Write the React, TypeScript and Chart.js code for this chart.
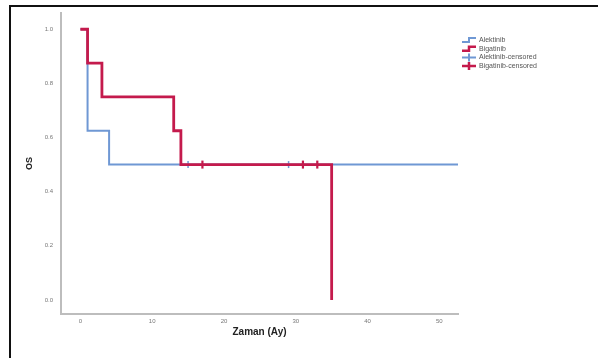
import React, { useEffect, useRef } from "react";
import { Chart, registerables } from "chart.js";

Chart.register(...registerables);

// Kaplan-Meier step points (time in months, survival)
const alektinibTimes = [0, 1, 4, 52.6];
const alektinibSurv = [1.0, 0.625, 0.5, 0.5];
const bigatinibTimes = [0, 1, 3, 13, 14, 35];
const bigatinibSurv = [1.0, 0.875, 0.75, 0.625, 0.5, 0.0];
const alektinibCensored = [15, 29];
const alektinibCensoredSurv = [0.5, 0.5];
const bigatinibCensored = [17, 31, 33];
const bigatinibCensoredSurv = [0.5, 0.5, 0.5];

const seriesLabels = ["Alektinib", "Bigatinib", "Alektinib-censored", "Bigatinib-censored"];
const xTicks = [0, 10, 20, 30, 40, 50];
const yTicks = [0, 0.2, 0.4, 0.6, 0.8, 1.0];
const xTitle = "Zaman (Ay)";
const yTitle = "OS";

const BLUE = "#6F98D4";
const RED = "#C41A4C";
const FONT = "'Liberation Sans', Arial, sans-serif";

const legendPlugin = {
  id: "kmLegend",
  afterDraw(chart: any) {
    const ctx = chart.ctx;
    const x0 = 462;
    const rowY = [40, 48.7, 57.4, 66];
    ctx.save();
    ctx.font = `7px ${FONT}`;
    ctx.textBaseline = "middle";
    chart.data.datasets.forEach((ds: any, i: number) => {
      const y = rowY[i];
      ctx.strokeStyle = ds.borderColor;
      ctx.lineWidth = i === 1 || i === 3 ? 2.5 : 2;
      ctx.beginPath();
      if (i < 2) {
        ctx.moveTo(x0, y + 2);
        ctx.lineTo(x0 + 7, y + 2);
        ctx.lineTo(x0 + 7, y - 2);
        ctx.lineTo(x0 + 14, y - 2);
      } else {
        ctx.moveTo(x0, y);
        ctx.lineTo(x0 + 14, y);
        ctx.moveTo(x0 + 7, y - 4);
        ctx.lineTo(x0 + 7, y + 4);
      }
      ctx.stroke();
      ctx.fillStyle = "#555";
      ctx.fillText(ds.label, x0 + 17, y);
    });
    ctx.restore();
  },
};

export default function App() {
  const canvasRef = useRef<HTMLCanvasElement>(null);

  useEffect(() => {
    const canvas = canvasRef.current;
    if (!canvas) return;
    const chart = new Chart(canvas, {
      type: "line",
      data: {
        datasets: [
          {
            label: seriesLabels[0],
            data: alektinibTimes.map((t, i) => ({ x: t, y: alektinibSurv[i] })),
            borderColor: BLUE,
            borderWidth: 2,
            stepped: "before",
            pointRadius: 0,
            fill: false,
            order: 3,
          },
          {
            label: seriesLabels[1],
            data: bigatinibTimes.map((t, i) => ({ x: t, y: bigatinibSurv[i] })),
            borderColor: RED,
            borderWidth: 2.8,
            stepped: "before",
            pointRadius: 0,
            fill: false,
            order: 1,
          },
          {
            label: seriesLabels[2],
            data: alektinibCensored.map((t, i) => ({ x: t, y: alektinibCensoredSurv[i] })),
            borderColor: BLUE,
            backgroundColor: BLUE,
            showLine: false,
            pointStyle: "line",
            rotation: 90,
            pointRadius: 3.5,
            pointBorderWidth: 1.5,
            order: 2,
          },
          {
            label: seriesLabels[3],
            data: bigatinibCensored.map((t, i) => ({ x: t, y: bigatinibCensoredSurv[i] })),
            borderColor: RED,
            backgroundColor: RED,
            showLine: false,
            pointStyle: "line",
            rotation: 90,
            pointRadius: 4,
            pointBorderWidth: 2.2,
            order: 0,
          },
        ] as any,
      },
      options: {
        animation: false,
        responsive: false,
        maintainAspectRatio: false,
        layout: { padding: { left: 0, top: 13, right: 140, bottom: 0 } },
        plugins: {
          legend: { display: false },
          tooltip: { enabled: false },
        },
        scales: {
          x: {
            type: "linear",
            min: -2.7,
            max: 52.6,
            grid: { display: false, drawTicks: false },
            border: { display: true, color: "#BDBDBD", width: 2 },
            afterBuildTicks: (scale: any) => {
              scale.ticks = xTicks.map((v) => ({ value: v }));
            },
            afterFit: (scale: any) => {
              scale.height = 44;
            },
            ticks: {
              color: "#777",
              font: { size: 6, family: FONT },
              padding: 4,
              maxRotation: 0,
              callback: (v: any) => String(v),
            },
            title: {
              display: true,
              text: xTitle,
              color: "#222",
              font: { size: 10, weight: "bold", family: FONT },
              padding: { top: 0, bottom: 20 },
            },
          },
          y: {
            type: "linear",
            min: -0.052,
            max: 1.06,
            grid: { display: false, drawTicks: false },
            border: { display: true, color: "#BDBDBD", width: 2 },
            afterBuildTicks: (scale: any) => {
              scale.ticks = yTicks.map((v) => ({ value: v }));
            },
            afterFit: (scale: any) => {
              scale.width = 61;
            },
            ticks: {
              color: "#777",
              font: { size: 6, family: FONT },
              padding: 8,
              callback: (v: any) => Number(v).toFixed(1),
            },
            title: {
              display: true,
              text: yTitle,
              color: "#222",
              font: { size: 9, weight: "bold", family: FONT },
              padding: { top: 24, bottom: 0 },
            },
          },
        },
      },
      plugins: [legendPlugin],
    });
    return () => chart.destroy();
  }, []);

  return (
    <div style={{ position: "fixed", left: 0, top: 0, width: 598, height: 358, background: "#fff" }}>
      <canvas ref={canvasRef} width={598} height={358} style={{ position: "absolute", left: 0, top: 0, width: 598, height: 358 }} />
      <div
        style={{
          position: "absolute",
          left: 9,
          top: 5,
          right: 0,
          bottom: 0,
          borderTop: "2px solid #111",
          borderLeft: "2px solid #111",
          pointerEvents: "none",
        }}
      />
    </div>
  );
}
